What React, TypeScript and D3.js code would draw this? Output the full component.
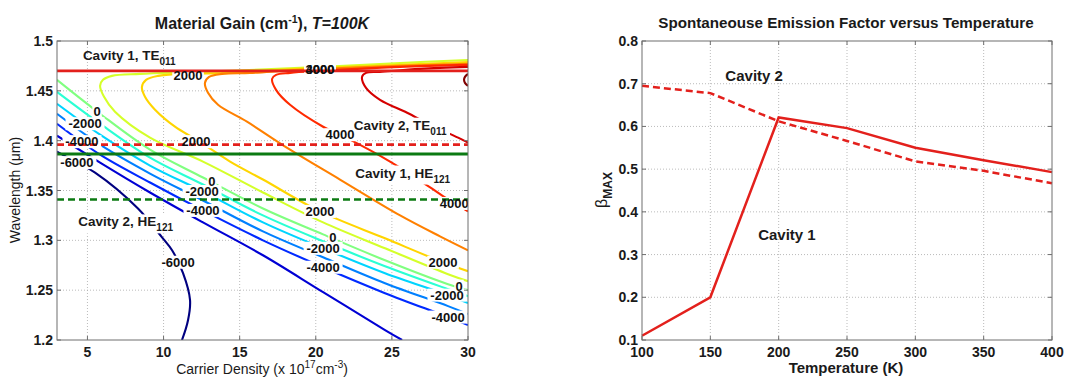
import React from 'react';
import * as d3 from 'd3';

const FONT = '"Liberation Sans", Arial, Helvetica, sans-serif';

// ---- left panel: material gain contours, T = 100K ----
// points are [carrier density (1e17 cm^-3), wavelength (um)]
type Pt = [number, number];

const densityTicks = [5, 10, 15, 20, 25, 30];
const wavelengthTicks = [1.2, 1.25, 1.3, 1.35, 1.4, 1.45, 1.5];
const gainLevels = [-6000, -5000, -4000, -3000, -2000, -1000, 0, 1000, 2000, 3000, 4000, 5000, 6000];

const gainM6000: Pt[] = [[3, 1.389], [4.31, 1.378], [5.5, 1.368], [8.32, 1.332], [9.9, 1.303], [10.56, 1.29], [11.28, 1.267], [11.74, 1.24], [11.61, 1.22], [11.21, 1.2]];
const gainM5000: Pt[] = [[3, 1.405], [5.83, 1.378], [9.11, 1.348], [12.59, 1.318], [16.53, 1.285], [20.48, 1.248], [24.55, 1.21], [25.67, 1.2]];
const gainM4000: Pt[] = [[3, 1.417], [5.83, 1.386], [9.11, 1.358], [12.59, 1.33], [16.53, 1.3], [20.48, 1.273], [24.55, 1.247], [28.69, 1.223], [30, 1.215]];
const gainM3000: Pt[] = [[3, 1.427], [5.83, 1.396], [9.11, 1.367], [12.59, 1.34], [16.53, 1.309], [20.48, 1.283], [24.55, 1.257], [28.69, 1.234], [30, 1.226]];
const gainM2000: Pt[] = [[3, 1.437], [5.83, 1.406], [9.11, 1.375], [12.59, 1.349], [16.53, 1.318], [20.48, 1.292], [24.55, 1.267], [28.69, 1.245], [30, 1.237]];
const gainM1000: Pt[] = [[3, 1.449], [5.83, 1.417], [9.11, 1.383], [12.59, 1.356], [16.53, 1.325], [20.48, 1.299], [24.55, 1.274], [28.69, 1.251], [30, 1.244]];
const gain0: Pt[] = [[3, 1.461], [5.83, 1.427], [9.11, 1.391], [12.59, 1.363], [16.53, 1.332], [20.48, 1.306], [24.55, 1.28], [28.69, 1.256], [30, 1.25]];
const gain1000: Pt[] = [[30, 1.481], [25.54, 1.478], [18.97, 1.473], [12.4, 1.469], [8.45, 1.467], [6.61, 1.465], [6.02, 1.461], [5.83, 1.455], [6.09, 1.444], [6.81, 1.429], [9.11, 1.403], [12.59, 1.379], [16.53, 1.348], [20.48, 1.318], [24.55, 1.292], [28.69, 1.266], [30, 1.259]];
const gain2000: Pt[] = [[30, 1.479], [25.54, 1.476], [18.97, 1.472], [14.37, 1.468], [11.41, 1.467], [9.64, 1.465], [8.85, 1.461], [8.58, 1.454], [8.78, 1.444], [9.44, 1.431], [10.75, 1.414], [12.26, 1.4], [14.37, 1.379], [16.53, 1.361], [20.28, 1.329], [24.55, 1.302], [28.36, 1.278], [30, 1.269]];
const gain3000: Pt[] = [[30, 1.477], [25.54, 1.475], [18.97, 1.471], [15.68, 1.468], [13.84, 1.467], [12.99, 1.464], [12.72, 1.458], [12.92, 1.448], [13.58, 1.436], [15.48, 1.419], [18.31, 1.391], [21.59, 1.361], [25.54, 1.325], [28.16, 1.304], [30, 1.29]];
const gain4000: Pt[] = [[30, 1.476], [25.54, 1.474], [20.28, 1.47], [18.31, 1.468], [17.39, 1.466], [17.13, 1.462], [17.39, 1.451], [18.31, 1.436], [20.48, 1.414], [22.25, 1.401], [24.88, 1.379], [26.85, 1.36], [28.49, 1.343], [30, 1.329]];
const gain5000: Pt[] = [[30, 1.474], [26.85, 1.472], [24.22, 1.469], [23.3, 1.468], [23.04, 1.464], [23.3, 1.453], [24.22, 1.441], [26.0, 1.428], [27.51, 1.416], [29.35, 1.403], [30, 1.398]];
const gain6000: Pt[] = [[30, 1.467], [29.8, 1.464], [29.74, 1.461], [29.8, 1.458], [30, 1.455]];

const gainLines: Pt[][] = [gainM6000, gainM5000, gainM4000, gainM3000, gainM2000, gainM1000, gain0, gain1000, gain2000, gain3000, gain4000, gain5000, gain6000];

// inline contour labels [density, wavelength, text]
const gainLabels: [number, number, string][] = [
  [5.63, 1.429, '0'], [13.18, 1.359, '0'], [21.13, 1.303, '0'], [29.41, 1.254, '0'],
  [4.84, 1.417, '-2000'], [12.53, 1.349, '-2000'], [20.48, 1.292, '-2000'], [28.62, 1.245, '-2000'],
  [4.64, 1.399, '-4000'], [12.59, 1.33, '-4000'], [20.48, 1.273, '-4000'], [28.69, 1.223, '-4000'],
  [4.31, 1.378, '-6000'], [10.95, 1.278, '-6000'],
  [11.61, 1.466, '2000'], [12.13, 1.399, '2000'], [20.28, 1.329, '2000'], [28.36, 1.278, '2000'],
  [21.59, 1.406, '4000'], [29.1, 1.337, '4000'],
  [20.28, 1.472, '4000'], [20.28, 1.472, '3000'],
];

// cavity mode wavelengths (um)
const modeWavelengths = [1.47, 1.396, 1.3865, 1.341];
const modeNames = ['Cavity 1, TE', 'Cavity 2, TE', 'Cavity 1, HE', 'Cavity 2, HE'];
const modeSubs = ['011', '011', '121', '121'];
const modeLabelAt: Pt[] = [[4.7, 1.481], [22.5, 1.411], [22.6, 1.363], [4.4, 1.314]];

// ---- right panel: spontaneous emission factor ----
const temperatures = [100, 150, 200, 250, 300, 350, 400];
const betaCavity1 = [0.11, 0.2, 0.621, 0.596, 0.55, 0.521, 0.493];
const betaCavity2 = [0.695, 0.678, 0.612, 0.566, 0.518, 0.496, 0.467];
const tempTicks = [100, 150, 200, 250, 300, 350, 400];
const betaTicks = [0.1, 0.2, 0.3, 0.4, 0.5, 0.6, 0.7, 0.8];

const RED = '#e3201c';
const GREEN = '#0b7a12';

const jet = (t: number) => {
  const c = (v: number) => Math.max(0, Math.min(1, v)) * 255;
  return d3.rgb(c(1.5 - Math.abs(4 * t - 3)), c(1.5 - Math.abs(4 * t - 2)), c(1.5 - Math.abs(4 * t - 1))).formatHex();
};

function Grid({ x, y, xTicks, yTicks }: any) {
  const [x0, x1] = x.range();
  const [yb, yt] = y.range();
  return (
    <g>
      {xTicks.filter((t: number) => x(t) > x0 + 1 && x(t) < x1 - 1).map((t: number) => (
        <line key={'gx' + t} x1={x(t)} x2={x(t)} y1={yt} y2={yb} stroke="#aaa" strokeWidth={0.8} strokeDasharray="1,2" />
      ))}
      {yTicks.filter((t: number) => y(t) < yb - 1 && y(t) > yt + 1).map((t: number) => (
        <line key={'gy' + t} x1={x0} x2={x1} y1={y(t)} y2={y(t)} stroke="#aaa" strokeWidth={0.8} strokeDasharray="1,2" />
      ))}
    </g>
  );
}

function Axes({ x, y, xTicks, yTicks, fmtX, fmtY }: any) {
  const [x0, x1] = x.range();
  const [yb, yt] = y.range();
  return (
    <g>
      <rect x={x0} y={yt} width={x1 - x0} height={yb - yt} fill="none" stroke="#6f6f6f" strokeWidth={1} />
      {xTicks.map((t: number) => (
        <g key={'tx' + t}>
          <line x1={x(t)} x2={x(t)} y1={yb} y2={yb - 4} stroke="#6f6f6f" />
          <line x1={x(t)} x2={x(t)} y1={yt} y2={yt + 4} stroke="#6f6f6f" />
          <text x={x(t)} y={357} textAnchor="middle" fontSize={14} fontWeight="bold" fill="#1a1a1a">{fmtX(t)}</text>
        </g>
      ))}
      {yTicks.map((t: number) => (
        <g key={'ty' + t}>
          <line x1={x0} x2={x0 + 4} y1={y(t)} y2={y(t)} stroke="#6f6f6f" />
          <line x1={x1} x2={x1 - 4} y1={y(t)} y2={y(t)} stroke="#6f6f6f" />
          <text x={x0 - 4} y={y(t)} dy="0.36em" textAnchor="end" fontSize={14} fontWeight="bold" fill="#1a1a1a">{fmtY(t)}</text>
        </g>
      ))}
    </g>
  );
}

function GainPanel() {
  const x = d3.scaleLinear().domain([3, 30]).range([57, 468]);
  const y = d3.scaleLinear().domain([1.2, 1.5]).range([340, 41]);
  const line = d3.line<Pt>().x(d => x(d[0])).y(d => y(d[1])).curve(d3.curveCatmullRom.alpha(0.5));
  const lo = d3.min(gainLevels)!, hi = d3.max(gainLevels)!;
  const modeStyle = [
    { color: RED, dash: undefined, width: 2.6 },
    { color: RED, dash: '7,4', width: 2.6 },
    { color: GREEN, dash: undefined, width: 3 },
    { color: GREEN, dash: '7,4', width: 2.6 },
  ];
  return (
    <g>
      <defs>
        <clipPath id="gainClip"><rect x={57} y={41} width={411} height={299} /></clipPath>
      </defs>
      <Grid x={x} y={y} xTicks={densityTicks} yTicks={wavelengthTicks} />
      <g clipPath="url(#gainClip)">
        {gainLines.map((pts, i) => (
          <path key={i} d={line(pts) || ''} fill="none" stroke={jet((gainLevels[i] - lo) / (hi - lo))} strokeWidth={2.1} />
        ))}
        {modeLabelAt.map((p, i) => (
          i > 0 ? <rect key={'mb' + i} x={x(p[0]) - 1} y={y(p[1]) - 12} width={modeNames[i].length * 6.6 + 18} height={19} fill="#fff" /> : null
        ))}
        {gainLabels.map((l, i) => (
          <rect key={'lb' + i} x={x(l[0]) - l[2].length * 3.7 - 1} y={y(l[1]) - 6.5} width={l[2].length * 7.4 + 2} height={13} fill="#fff" />
        ))}
        {modeWavelengths.map((w, i) => (
          <line key={'m' + i} x1={57} x2={468} y1={y(w)} y2={y(w)} stroke={modeStyle[i].color} strokeWidth={modeStyle[i].width} strokeDasharray={modeStyle[i].dash} />
        ))}
        {gainLabels.map((l, i) => (
          <text key={'lt' + i} x={x(l[0])} y={y(l[1])} dy="0.36em" textAnchor="middle" fontSize={13} fontWeight="bold" fill="#111">{l[2]}</text>
        ))}
      </g>
      {modeLabelAt.map((p, i) => (
        <text key={'mt' + i} x={x(p[0])} y={y(p[1])} fontSize={13.5} fontWeight="bold" fill="#1a1a1a">
          {modeNames[i]}<tspan dy={5} fontSize={10}>{modeSubs[i]}</tspan>
        </text>
      ))}
      <Axes x={x} y={y} xTicks={densityTicks} yTicks={wavelengthTicks} fmtX={(d: number) => String(d)} fmtY={(d: number) => String(+d.toFixed(2))} />
      <text x={262} y={29} textAnchor="middle" fontSize={16} fontWeight="bold" fill="#1a1a1a">
        Material Gain (cm<tspan dy={-6} fontSize={10.5}>-1</tspan><tspan dy={6}>), </tspan><tspan fontStyle="italic">T=100K</tspan>
      </text>
      <text x={262} y={374} textAnchor="middle" fontSize={14} fill="#1a1a1a">
        Carrier Density (x 10<tspan dy={-6} fontSize={10}>17</tspan><tspan dy={6}>cm</tspan><tspan dy={-6} fontSize={10}>-3</tspan><tspan dy={6}>)</tspan>
      </text>
      <text transform="translate(20,190) rotate(-90)" textAnchor="middle" fontSize={14} fill="#1a1a1a">Wavelength (μm)</text>
    </g>
  );
}

function BetaPanel() {
  const x = d3.scaleLinear().domain([100, 400]).range([642, 1052]);
  const y = d3.scaleLinear().domain([0.1, 0.8]).range([340, 41]);
  const line = d3.line<number>().x((_, i) => x(temperatures[i])).y(d => y(d));
  return (
    <g>
      <Grid x={x} y={y} xTicks={tempTicks} yTicks={betaTicks} />
      <path d={line(betaCavity2) || ''} fill="none" stroke={RED} strokeWidth={2.5} strokeDasharray="7,4" />
      <path d={line(betaCavity1) || ''} fill="none" stroke={RED} strokeWidth={2.5} />
      <text x={x(161)} y={y(0.706)} fontSize={15} fontWeight="bold" fill="#1a1a1a">Cavity 2</text>
      <text x={x(185)} y={y(0.334)} fontSize={15} fontWeight="bold" fill="#1a1a1a">Cavity 1</text>
      <Axes x={x} y={y} xTicks={tempTicks} yTicks={betaTicks} fmtX={(d: number) => String(d)} fmtY={(d: number) => d.toFixed(1)} />
      <text x={846} y={28} textAnchor="middle" fontSize={15.2} fontWeight="bold" fill="#1a1a1a">Spontaneouse Emission Factor versus Temperature</text>
      <text x={846} y={373} textAnchor="middle" fontSize={15} fontWeight="bold" fill="#1a1a1a">Temperature (K)</text>
      <text transform="translate(607,190) rotate(-90)" textAnchor="middle" fontSize={16} fill="#1a1a1a">
        β<tspan dy={5} fontSize={12} fontWeight="bold">MAX</tspan>
      </text>
    </g>
  );
}

export default function App() {
  return (
    <svg width={1075} height={377} style={{ position: 'absolute', left: 0, top: 0, background: '#fff' }} fontFamily={FONT}>
      <rect width={1075} height={377} fill="#fff" />
      <GainPanel />
      <BetaPanel />
    </svg>
  );
}
